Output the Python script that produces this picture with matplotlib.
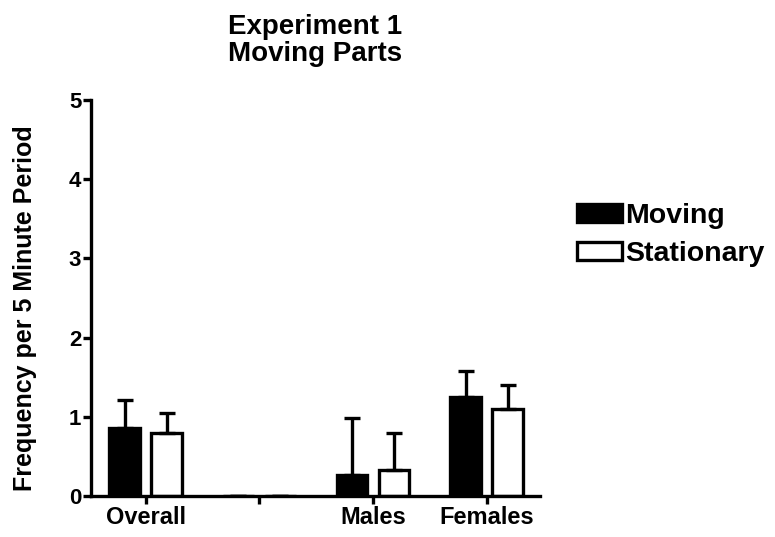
import matplotlib
matplotlib.use("Agg")
import matplotlib.pyplot as plt
import numpy as np
from matplotlib.patches import Patch

categories = ["Overall", "", "Males", "Females"]
moving = [0.86, 0.0, 0.27, 1.25]
moving_err = [0.35, 0.0, 0.72, 0.33]
stationary = [0.79, 0.0, 0.33, 1.10]
stationary_err = [0.26, 0.0, 0.46, 0.30]

plt.rcParams['font.family'] = ['Liberation Sans', 'DejaVu Sans']
plt.rcParams['font.weight'] = 'bold'

fig = plt.figure(figsize=(7.75, 5.37), dpi=100)
ax = fig.add_axes([91 / 775, 41 / 537, 449 / 775, 396 / 537])

x = np.arange(len(categories))
off = 0.185
w = 0.27
lw = 2.4

ax.bar(x - off, moving, w, color='black', edgecolor='black', linewidth=lw,
       yerr=[np.zeros(4), moving_err], capsize=6,
       error_kw=dict(elinewidth=lw, capthick=lw, ecolor='black'))
ax.bar(x + off, stationary, w, color='white', edgecolor='black', linewidth=lw,
       yerr=[np.zeros(4), stationary_err], capsize=6,
       error_kw=dict(elinewidth=lw, capthick=lw, ecolor='black'))

ax.set_xlim(-0.48, 3.47)
ax.set_ylim(0, 5)
ax.set_xticks(x)
ax.set_xticklabels(categories, fontsize=17, fontweight='bold')
ax.set_yticks([0, 1, 2, 3, 4, 5])
ax.set_yticklabels(['0', '1', '2', '3', '4', '5'], fontsize=16, fontweight='bold')
ax.tick_params(width=lw, length=6, direction='out', pad=1)

for s in ['top', 'right']:
    ax.spines[s].set_visible(False)
for s in ['left', 'bottom']:
    ax.spines[s].set_linewidth(lw)

ax.set_ylabel("Frequency per 5 Minute Period", fontsize=18, fontweight='bold')
ax.yaxis.set_label_coords(-0.12, 0.475)
ax.set_title("Experiment 1\nMoving Parts", fontsize=20, fontweight='bold', pad=28,
             linespacing=1.05)

handles = [Patch(facecolor='black', edgecolor='black', linewidth=lw, label='Moving'),
           Patch(facecolor='white', edgecolor='black', linewidth=lw, label='Stationary')]
fig.legend(handles=handles, loc='upper left', bbox_to_anchor=(577 / 775, 1 - 203 / 537),
           frameon=False, fontsize=20.5, handlelength=1.58, handleheight=0.6,
           handletextpad=0.1, labelspacing=0.43, borderaxespad=0, borderpad=0)

fig.savefig("out.png", dpi=100)
